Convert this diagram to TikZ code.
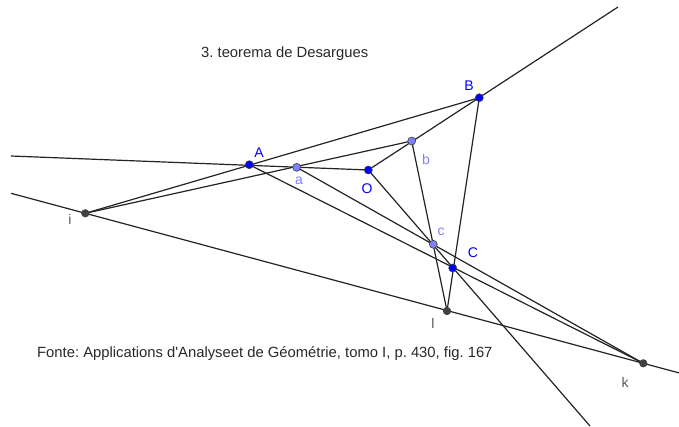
\documentclass[tikz,border=0pt]{standalone}
\usepackage{fontspec}
\setmainfont{Liberation Sans}
\frenchspacing
\definecolor{ptblue}{RGB}{0,0,255}
\definecolor{ptlight}{RGB}{128,128,255}
\definecolor{ptdark}{RGB}{64,64,64}
\definecolor{linegray}{RGB}{35,35,35}
\definecolor{txtgray}{RGB}{40,40,40}
\definecolor{lblgray}{RGB}{90,90,90}

\begin{document}
\begin{tikzpicture}[x=1pt, y=-1pt,
  ln/.style={draw=linegray, line width=1.2pt},
  dot/.style={circle, draw=black!75, line width=0.6pt, inner sep=0pt, minimum size=8pt, fill=#1},
  lbl/.style={font=\fontsize{14}{16}\selectfont, text=#1, inner sep=0pt},
  captext/.style={font=\fontsize{14.8}{17}\selectfont, text=txtgray, inner sep=0pt, anchor=base west}
]
\useasboundingbox (0,0) rectangle (679,426);

% ================= POINTS =================
\coordinate (O) at (368.3,170);
\coordinate (A) at (249.3,164.7);
\coordinate (B) at (479.3,97.7);
\coordinate (C) at (452.7,268);
\coordinate (a) at (296.7,167.3);
\coordinate (b) at (411.7,141);
\coordinate (c) at (433.3,244.3);
\coordinate (i) at (85.3,213.3);
\coordinate (l) at (447,311);
\coordinate (k) at (643.3,363.3);
% free ends of the rays and of the axis
\coordinate (rayW) at (11,156);
\coordinate (rayNE) at (618,7);
\coordinate (rayS) at (590,426);
\coordinate (axW) at (11,193.3);
\coordinate (axE) at (679,372.9);

% --- rays from O ---
\draw[ln] (rayW) -- (O);
\draw[ln] (O) -- (rayNE);
\draw[ln] (O) -- (rayS);

% --- axis i l k ---
\draw[ln] (axW) -- (axE);

% --- sides and their extensions ---
\draw[ln] (i) -- (B);
\draw[ln] (i) -- (b);
\draw[ln] (A) -- (k);
\draw[ln] (a) -- (k);
\draw[ln] (B) -- (l);
\draw[ln] (b) -- (l);

% --- dots ---
\foreach \p in {O,A,B,C}{
  \node[dot=ptblue] (d\p) at (\p) {};
}
\foreach \p in {a,b,c}{
  \node[dot=ptlight] (d\p) at (\p) {};
}
\foreach \p in {i,l,k}{
  \node[dot=ptdark, minimum size=7.5pt] (d\p) at (\p) {};
}

% --- labels ---
\node[lbl=ptblue] (lA) at (259,153) {A};
\node[lbl=ptblue] (lB) at (469,86) {B};
\node[lbl=ptblue] (lC) at (473,253) {C};
\node[lbl=ptblue] (lO) at (367,189) {O};
\node[lbl=ptlight] (la) at (299,181) {a};
\node[lbl=ptlight] (lb) at (426,159) {b};
\node[lbl=ptlight] (lc) at (441,232) {c};
\node[lbl=lblgray] (li) at (70,219) {i};
\node[lbl=lblgray] (ll) at (433,323) {l};
\node[lbl=lblgray] (lk) at (625,382) {k};

% ================= TEXTS =================
\node[captext] (title) at (201,57.3) {3. teorema de Desargues};
\node[captext] (source) at (37,357.3) {Fonte: Applications d\textquotesingle Analyseet de Géométrie, tomo I, p. 430, fig. 167};
\end{tikzpicture}
\end{document}
